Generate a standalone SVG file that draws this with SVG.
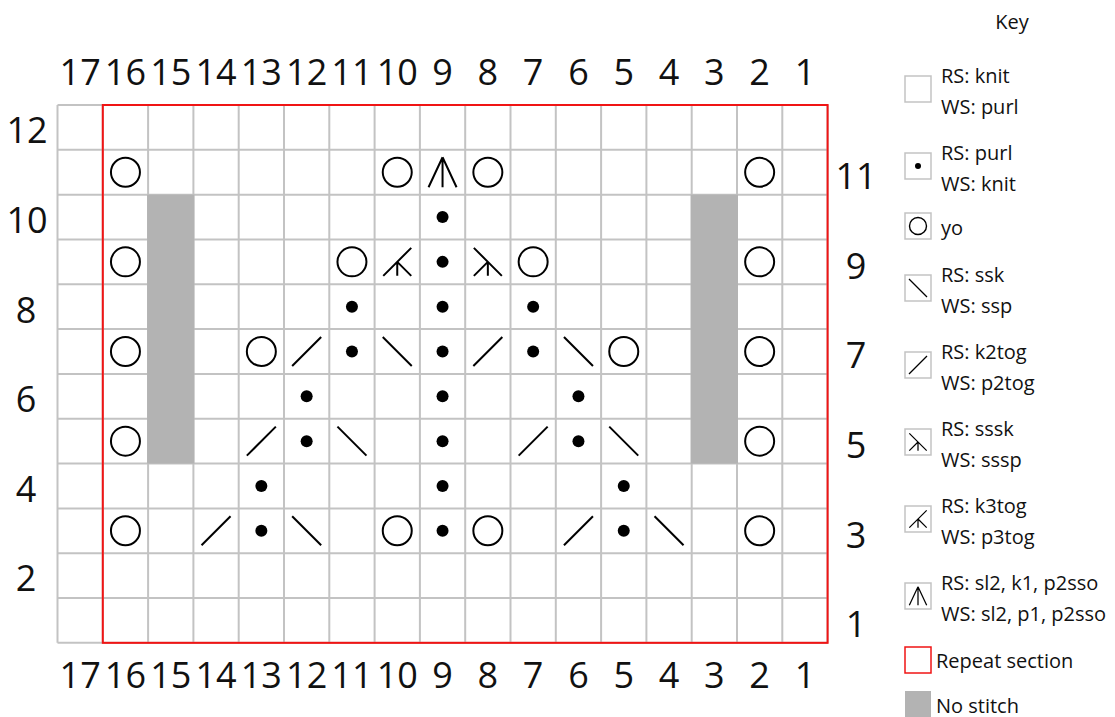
<svg xmlns="http://www.w3.org/2000/svg" xmlns:xlink="http://www.w3.org/1999/xlink" width="1115" height="717" viewBox="0 0 1115 717">
<style>
.num{font-family:"Open Sans","Noto Sans","Liberation Sans",sans-serif;font-size:36px;fill:#111;text-anchor:middle}
.key{font-family:"Open Sans","Noto Sans","Liberation Sans",sans-serif;font-size:20px;fill:#111}
.grid{stroke:#c3c3c3;stroke-width:2;fill:none}
.sym{stroke:#000;stroke-width:2;fill:none;stroke-linecap:butt}
.dot{fill:#000}
.nostitch{fill:#b3b3b3}
.kbox{fill:#fff;stroke:#c3c3c3;stroke-width:1.5}
</style>
<defs>
<circle id="yo" class="sym" r="14.5"/>
<circle id="dot" class="dot" r="6"/>
<path id="k2tog" class="sym" d="M-14.5,14.5L14.5,-14.5"/>
<path id="ssk" class="sym" d="M-14.5,-14.5L14.5,14.5"/>
<path id="k3tog" class="sym" d="M-14,14L14,-14M0,0V14M0,0L14,14"/>
<path id="sssk" class="sym" d="M-14,-14L14,14M0,0V14M0,0L-14,14"/>
<path id="sl2" class="sym" d="M0,-15V15M0,-15L-14,15M0,-15L14,15"/>
</defs>
<rect width="1115" height="717" fill="#fff"/>

<g id="grid">
<path class="grid" d="M57.5,105V642.84M102.8,105V642.84M148.1,105V642.84M193.4,105V642.84M238.7,105V642.84M284,105V642.84M329.3,105V642.84M374.6,105V642.84M419.9,105V642.84M465.2,105V642.84M510.5,105V642.84M555.8,105V642.84M601.1,105V642.84M646.4,105V642.84M691.7,105V642.84M737,105V642.84M782.3,105V642.84M827.6,105V642.84
M57.5,105H827.6M57.5,149.82H827.6M57.5,194.64H827.6M57.5,239.46H827.6M57.5,284.28H827.6M57.5,329.1H827.6M57.5,373.92H827.6M57.5,418.74H827.6M57.5,463.56H827.6M57.5,508.38H827.6M57.5,553.2H827.6M57.5,598.02H827.6M57.5,642.84H827.6"/>
<rect class="nostitch" x="147.1" y="194.64" width="47.3" height="268.92"/>
<rect class="nostitch" x="690.7" y="194.64" width="47.3" height="268.92"/>
<rect x="102.8" y="105" width="724.8" height="537.84" fill="none" stroke="#f01414" stroke-width="2"/>
</g>

<g id="stitches">
<!-- row 11 -->
<use xlink:href="#yo" x="125.45" y="172.23"/>
<use xlink:href="#yo" x="397.25" y="172.23"/>
<use xlink:href="#sl2" x="442.55" y="172.23"/>
<use xlink:href="#yo" x="487.85" y="172.23"/>
<use xlink:href="#yo" x="759.65" y="172.23"/>
<!-- row 10 -->
<use xlink:href="#dot" x="442.55" y="217.05"/>
<!-- row 9 -->
<use xlink:href="#yo" x="125.45" y="261.87"/>
<use xlink:href="#yo" x="351.95" y="261.87"/>
<use xlink:href="#k3tog" x="397.25" y="261.87"/>
<use xlink:href="#dot" x="442.55" y="261.87"/>
<use xlink:href="#sssk" x="487.85" y="261.87"/>
<use xlink:href="#yo" x="533.15" y="261.87"/>
<use xlink:href="#yo" x="759.65" y="261.87"/>
<!-- row 8 -->
<use xlink:href="#dot" x="351.95" y="306.69"/>
<use xlink:href="#dot" x="442.55" y="306.69"/>
<use xlink:href="#dot" x="533.15" y="306.69"/>
<!-- row 7 -->
<use xlink:href="#yo" x="125.45" y="351.51"/>
<use xlink:href="#yo" x="261.35" y="351.51"/>
<use xlink:href="#k2tog" x="306.65" y="351.51"/>
<use xlink:href="#dot" x="351.95" y="351.51"/>
<use xlink:href="#ssk" x="397.25" y="351.51"/>
<use xlink:href="#dot" x="442.55" y="351.51"/>
<use xlink:href="#k2tog" x="487.85" y="351.51"/>
<use xlink:href="#dot" x="533.15" y="351.51"/>
<use xlink:href="#ssk" x="578.45" y="351.51"/>
<use xlink:href="#yo" x="623.75" y="351.51"/>
<use xlink:href="#yo" x="759.65" y="351.51"/>
<!-- row 6 -->
<use xlink:href="#dot" x="306.65" y="396.33"/>
<use xlink:href="#dot" x="442.55" y="396.33"/>
<use xlink:href="#dot" x="578.45" y="396.33"/>
<!-- row 5 -->
<use xlink:href="#yo" x="125.45" y="441.15"/>
<use xlink:href="#k2tog" x="261.35" y="441.15"/>
<use xlink:href="#dot" x="306.65" y="441.15"/>
<use xlink:href="#ssk" x="351.95" y="441.15"/>
<use xlink:href="#dot" x="442.55" y="441.15"/>
<use xlink:href="#k2tog" x="533.15" y="441.15"/>
<use xlink:href="#dot" x="578.45" y="441.15"/>
<use xlink:href="#ssk" x="623.75" y="441.15"/>
<use xlink:href="#yo" x="759.65" y="441.15"/>
<!-- row 4 -->
<use xlink:href="#dot" x="261.35" y="485.97"/>
<use xlink:href="#dot" x="442.55" y="485.97"/>
<use xlink:href="#dot" x="623.75" y="485.97"/>
<!-- row 3 -->
<use xlink:href="#yo" x="125.45" y="530.79"/>
<use xlink:href="#k2tog" x="216.05" y="530.79"/>
<use xlink:href="#dot" x="261.35" y="530.79"/>
<use xlink:href="#ssk" x="306.65" y="530.79"/>
<use xlink:href="#yo" x="397.25" y="530.79"/>
<use xlink:href="#dot" x="442.55" y="530.79"/>
<use xlink:href="#yo" x="487.85" y="530.79"/>
<use xlink:href="#k2tog" x="578.45" y="530.79"/>
<use xlink:href="#dot" x="623.75" y="530.79"/>
<use xlink:href="#ssk" x="669.05" y="530.79"/>
<use xlink:href="#yo" x="759.65" y="530.79"/>
</g>

<g id="col-labels-top" class="num">
<text x="80.15" y="85">17</text><text x="125.45" y="85">16</text><text x="170.75" y="85">15</text><text x="216.05" y="85">14</text><text x="261.35" y="85">13</text><text x="306.65" y="85">12</text><text x="351.95" y="85">11</text><text x="397.25" y="85">10</text><text x="442.55" y="85">9</text><text x="487.85" y="85">8</text><text x="533.15" y="85">7</text><text x="578.45" y="85">6</text><text x="623.75" y="85">5</text><text x="669.05" y="85">4</text><text x="714.35" y="85">3</text><text x="759.65" y="85">2</text><text x="804.95" y="85">1</text>
</g>
<g id="col-labels-bottom" class="num">
<text x="80.15" y="688">17</text><text x="125.45" y="688">16</text><text x="170.75" y="688">15</text><text x="216.05" y="688">14</text><text x="261.35" y="688">13</text><text x="306.65" y="688">12</text><text x="351.95" y="688">11</text><text x="397.25" y="688">10</text><text x="442.55" y="688">9</text><text x="487.85" y="688">8</text><text x="533.15" y="688">7</text><text x="578.45" y="688">6</text><text x="623.75" y="688">5</text><text x="669.05" y="688">4</text><text x="714.35" y="688">3</text><text x="759.65" y="688">2</text><text x="804.95" y="688">1</text>
</g>
<g id="row-labels-left" class="num">
<text x="27" y="143">12</text><text x="27" y="233">10</text><text x="26" y="323">8</text><text x="26" y="412">6</text><text x="26" y="502">4</text><text x="26" y="591">2</text>
</g>
<g id="row-labels-right" class="num">
<text x="856" y="189">11</text><text x="856" y="279">9</text><text x="856" y="368">7</text><text x="856" y="458">5</text><text x="856" y="548">3</text><text x="856" y="637">1</text>
</g>

<g id="key">
<text class="key" x="1012" y="29" text-anchor="middle">Key</text>
<g id="key-knit"><rect class="kbox" x="905" y="76" width="26" height="26"/><text class="key" x="941" y="83">RS: knit</text><text class="key" x="941" y="114">WS: purl</text></g>
<g id="key-purl"><rect class="kbox" x="905" y="153" width="26" height="26"/><circle cx="918" cy="166" r="3" fill="#000"/><text class="key" x="941" y="160">RS: purl</text><text class="key" x="941" y="191">WS: knit</text></g>
<g id="key-yo"><rect class="kbox" x="905" y="213" width="26" height="26"/><circle cx="918" cy="226" r="8.5" fill="none" stroke="#000" stroke-width="1.4"/><text class="key" x="941" y="235">yo</text></g>
<g id="key-ssk"><rect class="kbox" x="905" y="275" width="26" height="26"/><use xlink:href="#ssk" transform="translate(918,288) scale(0.62)"/><text class="key" x="941" y="282">RS: ssk</text><text class="key" x="941" y="313">WS: ssp</text></g>
<g id="key-k2tog"><rect class="kbox" x="905" y="352" width="26" height="26"/><use xlink:href="#k2tog" transform="translate(918,365) scale(0.62)"/><text class="key" x="941" y="359">RS: k2tog</text><text class="key" x="941" y="390">WS: p2tog</text></g>
<g id="key-sssk"><rect class="kbox" x="905" y="429" width="26" height="26"/><use xlink:href="#sssk" transform="translate(918,442) scale(0.62)"/><text class="key" x="941" y="436">RS: sssk</text><text class="key" x="941" y="467">WS: sssp</text></g>
<g id="key-k3tog"><rect class="kbox" x="905" y="506" width="26" height="26"/><use xlink:href="#k3tog" transform="translate(918,519) scale(0.62)"/><text class="key" x="941" y="513">RS: k3tog</text><text class="key" x="941" y="544">WS: p3tog</text></g>
<g id="key-sl2"><rect class="kbox" x="905" y="583" width="26" height="26"/><use xlink:href="#sl2" transform="translate(918,596) scale(0.62)"/><text class="key" x="941" y="590">RS: sl2, k1, p2sso</text><text class="key" x="941" y="621">WS: sl2, p1, p2sso</text></g>
<g id="key-repeat"><rect x="905" y="647" width="26" height="26" fill="#fff" stroke="#f01414" stroke-width="1.5"/><text class="key" x="936" y="668">Repeat section</text></g>
<g id="key-nostitch"><rect class="nostitch" x="905" y="691" width="26" height="26"/><text class="key" x="936" y="713">No stitch</text></g>
</g>
</svg>
